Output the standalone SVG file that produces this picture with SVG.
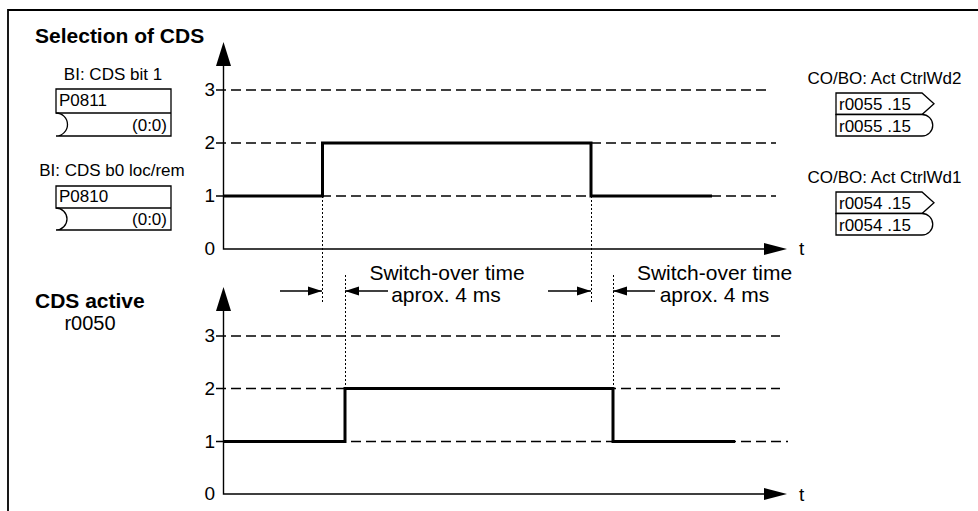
<svg xmlns="http://www.w3.org/2000/svg" width="978" height="511" viewBox="0 0 978 511">
<style>
text{font-family:"Liberation Sans",Arial,sans-serif;fill:#000}
.t{font-size:21px;font-weight:bold}
.s{font-size:17px}
.m{font-size:21px}
.ax{font-size:19px;text-anchor:end}
.c{text-anchor:middle}
.e{text-anchor:end}
.axis{stroke:#000;stroke-width:1.4;fill:none}
.dash{stroke:#000;stroke-width:1.3;stroke-dasharray:10 5;fill:none}
.sig{stroke:#000;stroke-width:3;fill:none}
.dot{stroke:#000;stroke-width:1;stroke-dasharray:2 2;fill:none}
.dim{stroke:#000;stroke-width:1.3;fill:none;marker-end:url(#ah)}
.box{stroke:#000;stroke-width:1.3;fill:#fff}
</style>
<defs>
<marker id="ah" markerUnits="userSpaceOnUse" markerWidth="14" markerHeight="10" refX="14" refY="5" orient="auto">
<path d="M0,0.5 L14,5 L0,9.5 Z" fill="#000"/>
</marker>
</defs>
<path d="M8,511 V10 H978" fill="none" stroke="#000" stroke-width="1.8"/>
<text class="t" x="35" y="43">Selection of CDS</text>
<g id="cds-active">
<text class="t" x="35" y="308">CDS active</text>
<text class="m c" x="90" y="330" style="font-size:20px">r0050</text>
</g>
<g id="p0811">
<text class="s c" x="113" y="80">BI: CDS bit 1</text>
<path class="box" d="M56,113 V89 H171 V136 H56 A11.5,11.5 0 0 0 56,113 Z"/>
<path class="axis" d="M56,113 H171"/>
<text class="s" x="59" y="106">P0811</text>
<text class="s e" x="167" y="131">(0:0)</text>
</g>
<g id="p0810">
<text class="s c" x="112" y="176">BI: CDS b0 loc/rem</text>
<path class="box" d="M56,208 V186 H171 V230 H56 A11,11 0 0 0 56,208 Z"/>
<path class="axis" d="M56,208 H171"/>
<text class="s" x="59" y="202">P0810</text>
<text class="s e" x="167" y="225">(0:0)</text>
</g>
<g id="r0055">
<text class="s c" x="884.5" y="84">CO/BO: Act CtrlWd2</text>
<path class="box" d="M836,93 H922 L934,103.75 L922,114.5 H836 Z"/>
<path class="box" d="M836,114.5 H922 A10.75,10.75 0 0 1 922,136 H836 Z"/>
<text class="s" x="839" y="110">r0055 .15</text>
<text class="s" x="839" y="131.5">r0055 .15</text>
</g>
<g id="r0054">
<text class="s c" x="884.5" y="183">CO/BO: Act CtrlWd1</text>
<path class="box" d="M836,192 H922 L934,202.75 L922,213.5 H836 Z"/>
<path class="box" d="M836,213.5 H922 A10.75,10.75 0 0 1 922,235 H836 Z"/>
<text class="s" x="839" y="209">r0054 .15</text>
<text class="s" x="839" y="230.5">r0054 .15</text>
</g>
<g id="chart-top">
<path class="dash" d="M216,90 H767 M216,143 H776 M216,196 H776"/>
<path class="axis" d="M223.5,64 V249 H765"/>
<polygon points="223.5,42 216,66 231,66"/>
<polygon points="787,249 764,243 764,255"/>
<text class="ax" x="215" y="96">3</text>
<text class="ax" x="215" y="149">2</text>
<text class="ax" x="215" y="202">1</text>
<text class="ax" x="215" y="255">0</text>
<text class="ax" x="799" y="255" style="text-anchor:start">t</text>
</g>
<g id="chart-bottom">
<path class="dash" d="M216,336 H780 M216,388.5 H780 M216,441.5 H788"/>
<path class="axis" d="M223.5,309 V494 H765"/>
<polygon points="223.5,287 216,311 231,311"/>
<polygon points="787,494 764,488 764,500"/>
<text class="ax" x="215" y="342">3</text>
<text class="ax" x="215" y="394.5">2</text>
<text class="ax" x="215" y="447.5">1</text>
<text class="ax" x="215" y="500">0</text>
<text class="ax" x="799" y="501" style="text-anchor:start">t</text>
</g>
<g id="connectors">
<path class="sig" d="M223.5,196 H322.5 V143 H591 V196 H712"/>
<path class="sig" d="M223.5,441.5 H345 V388.5 H613 V441.5 H735"/>
<path class="dot" d="M322.5,196 V302 M591.5,196 V302 M345.5,275 V388.5 M613.5,275 V388.5"/>
<path class="dim" d="M280,291 H322"/>
<path class="dim" d="M388,291 H345"/>
<path class="dim" d="M548,291 H591"/>
<path class="dim" d="M655,291 H613"/>
</g>
<g id="labels">
<text class="m c" x="447" y="280">Switch-over time</text>
<text class="m c" x="446" y="302">aprox. 4 ms</text>
<text class="m c" x="714.5" y="280">Switch-over time</text>
<text class="m c" x="714.5" y="302">aprox. 4 ms</text>
</g>
</svg>
